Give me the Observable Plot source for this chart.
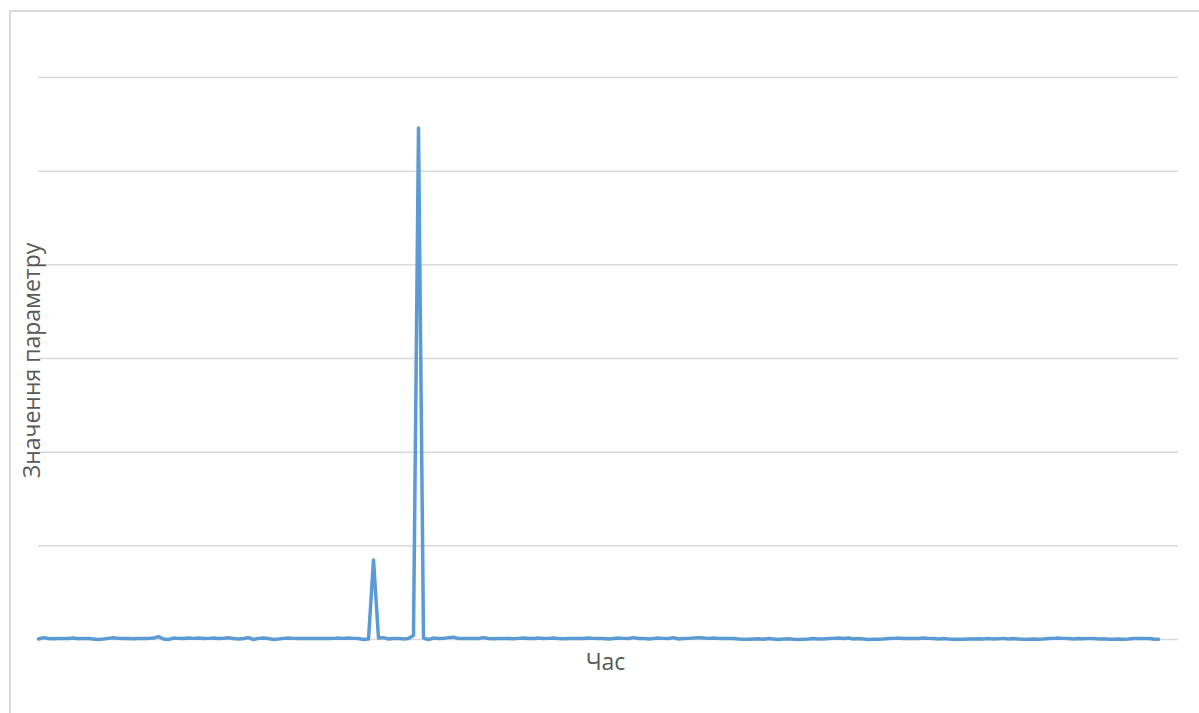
<!DOCTYPE html>
<html>
<head>
<meta charset="utf-8">
<script src="https://cdn.jsdelivr.net/npm/d3@7"></script>
<script src="https://cdn.jsdelivr.net/npm/@observablehq/plot@0.6"></script>
<style>
  html, body { margin: 0; padding: 0; background: #fff; overflow: hidden; }
  #wrap { position: relative; width: 1199px; height: 713px; }
  #frame { position: absolute; left: 9px; top: 10px; width: 1300px; height: 800px; border: 2px solid #d9d9d9; box-sizing: border-box; pointer-events: none; }
  #chart { position: absolute; left: 0; top: 0; }
</style>
</head>
<body>
<div id="wrap"><div id="chart"></div><div id="frame"></div></div>
<script>
// Series values (parameter value per time step)
const values = [
  0.05,0.2,0.1,0.08,0.1,0.12,0.1,0.15,0.08,0.12,0.1,0.05,0.0,0.05,0.12,
  0.18,0.12,0.1,0.1,0.08,0.1,0.12,0.12,0.15,0.3,0.05,0.0,0.15,0.12,0.1,
  0.15,0.12,0.15,0.1,0.12,0.15,0.1,0.12,0.18,0.1,0.05,0.1,0.2,0.0,0.12,
  0.15,0.1,0.0,0.05,0.12,0.15,0.12,0.1,0.12,0.1,0.1,0.12,0.1,0.1,0.12,
  0.15,0.12,0.15,0.12,0.1,0.0,0.05,8.5,0.15,0.2,0.05,0.1,0.12,0.05,0.1,
  0.45,54.6,0.15,0.0,0.15,
  0.1,0.12,0.2,0.25,0.1,0.1,0.12,0.1,0.1,0.2,0.1,0.08,0.1,0.12,0.1,
  0.08,0.12,0.15,0.1,0.1,0.15,0.1,0.12,0.15,0.1,0.08,0.1,0.12,0.1,0.1,
  0.15,0.12,0.1,0.1,0.05,0.1,0.15,0.12,0.1,0.2,0.1,0.12,0.05,0.1,0.15,
  0.12,0.1,0.2,0.05,0.1,0.12,0.15,0.2,0.15,0.12,0.15,0.12,0.12,0.1,0.1,
  0.05,0.02,0.02,0.05,0.08,0.03,0.1,0.05,0.0,0.05,0.08,0.02,0.0,0.02,0.05,
  0.1,0.05,0.05,0.1,0.12,0.15,0.1,0.15,0.05,0.1,0.05,0.0,0.02,0.02,0.05,
  0.1,0.12,0.15,0.1,0.12,0.12,0.1,0.15,0.12,0.1,0.05,0.1,0.05,0.02,0.02,
  0.02,0.05,0.05,0.08,0.05,0.1,0.05,0.08,0.12,0.05,0.1,0.05,0.02,0.02,0.05,
  0.02,0.05,0.1,0.12,0.15,0.12,0.1,0.05,0.1,0.08,0.12,0.1,0.05,0.08,0.02,
  0.02,0.05,0.02,0.05,0.1,0.1,0.12,0.1,0.05,0.02
];
const timeSteps = values.map((_, i) => i);
const yGridTicks = [0, 10, 20, 30, 40, 50, 60];
const xLabel = "Час";
const yLabel = "Значення параметру";

const data = timeSteps.map((t, i) => ({ t, v: values[i] }));

const chart = Plot.plot({
  width: 1199,
  height: 713,
  marginLeft: 38,
  marginRight: 21,
  marginTop: 77,
  marginBottom: 74,
  style: { fontFamily: "'Open Sans', sans-serif", background: "transparent" },
  x: { domain: [0, 228], axis: null },
  y: { domain: [0, 60], axis: null },
  marks: [
    Plot.gridY(yGridTicks, { stroke: "#d9d9d9", strokeOpacity: 1, strokeWidth: 1.5 }),
    Plot.line(data, { x: "t", y: "v", stroke: "#5b9bd5", strokeWidth: 3.5, strokeLinejoin: "round", strokeLinecap: "round" }),
    Plot.text([xLabel], { frameAnchor: "bottom", text: d => d, dx: -3, dy: 30, fontSize: 23, fill: "#595959", lineAnchor: "bottom" }),
    Plot.text([yLabel], { frameAnchor: "left", text: d => d, dx: -6, dy: 2, rotate: -90, fontSize: 23, fill: "#595959", lineAnchor: "middle", textAnchor: "middle" })
  ]
});
document.getElementById("chart").appendChild(chart);
</script>
</body>
</html>
